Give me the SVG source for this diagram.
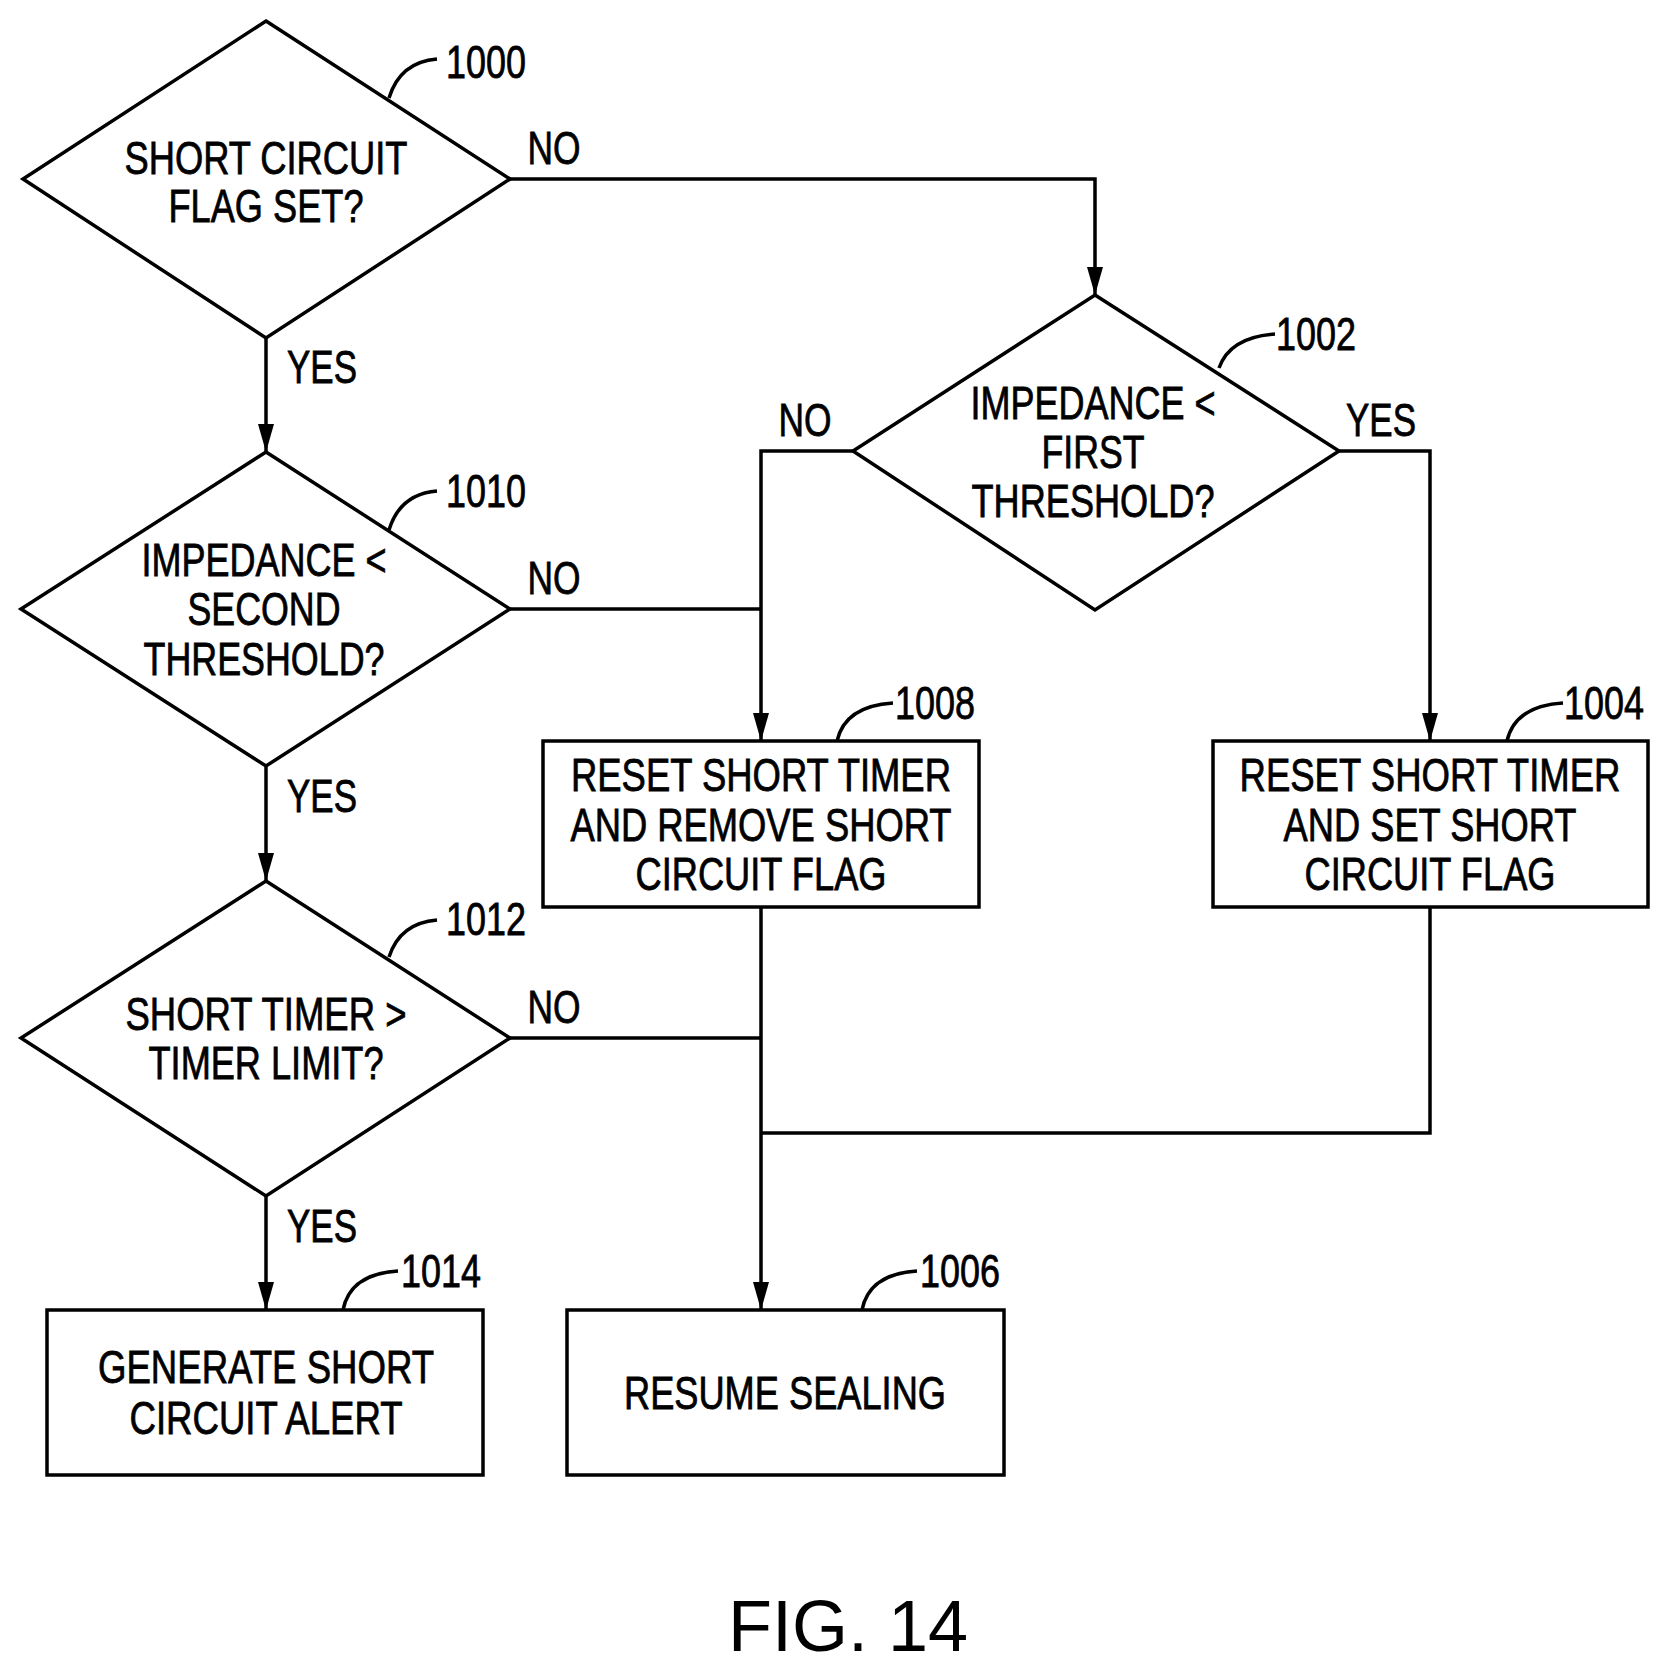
<svg xmlns="http://www.w3.org/2000/svg" width="1664" height="1666" viewBox="0 0 1664 1666">
<style>
.s{fill:#fff;stroke:#000;stroke-width:3.5}
.c{fill:none;stroke:#000;stroke-width:3.5}
.t{font-family:"Liberation Sans",Arial,sans-serif;font-size:47px;text-anchor:middle;fill:#000;stroke:#000;stroke-width:0.8}
</style>
<defs>
<marker id="d" markerWidth="28" markerHeight="16" refX="28" refY="8" orient="auto" markerUnits="userSpaceOnUse" viewBox="0 0 28 16"><path d="M0,0 L28,8 L0,16 Z" fill="#000"/></marker></defs>
<rect width="1664" height="1666" fill="#fff"/>
<g id="connectors">
<path class="c" d="M510,179 H1095 V295" marker-end="url(#d)"/>
<path class="c" d="M266,338 V452" marker-end="url(#d)"/>
<path class="c" d="M853,451 H761 V741" marker-end="url(#d)"/>
<path class="c" d="M1339,451 H1430 V741" marker-end="url(#d)"/>
<path class="c" d="M510,609 H761"/>
<path class="c" d="M266,766 V881" marker-end="url(#d)"/>
<path class="c" d="M510,1038 H761"/>
<path class="c" d="M761,907 V1310" marker-end="url(#d)"/>
<path class="c" d="M1430,907 V1133 H761"/>
<path class="c" d="M266,1196 V1310" marker-end="url(#d)"/>
<text class="t" x="554" y="164" textLength="53" lengthAdjust="spacingAndGlyphs">NO</text>
<text class="t" x="322" y="383" textLength="70" lengthAdjust="spacingAndGlyphs">YES</text>
<text class="t" x="805" y="436" textLength="53" lengthAdjust="spacingAndGlyphs">NO</text>
<text class="t" x="1381" y="436" textLength="70" lengthAdjust="spacingAndGlyphs">YES</text>
<text class="t" x="554" y="594" textLength="53" lengthAdjust="spacingAndGlyphs">NO</text>
<text class="t" x="322" y="812" textLength="70" lengthAdjust="spacingAndGlyphs">YES</text>
<text class="t" x="554" y="1023" textLength="53" lengthAdjust="spacingAndGlyphs">NO</text>
<text class="t" x="322" y="1242" textLength="70" lengthAdjust="spacingAndGlyphs">YES</text>
</g>
<g id="n1000">
<polygon class="s" points="266,21 510,179 266,338 23,179"/>
<text class="t" x="266" y="174" textLength="283" lengthAdjust="spacingAndGlyphs">SHORT CIRCUIT</text>
<text class="t" x="266" y="222" textLength="195" lengthAdjust="spacingAndGlyphs">FLAG SET?</text>
<path class="c" d="M389,98 Q400,62 437,59"/>
<text class="t" x="486" y="78" textLength="80" lengthAdjust="spacingAndGlyphs">1000</text>
</g>
<g id="n1002">
<polygon class="s" points="1095,295 1339,451 1095,610 853,451"/>
<text class="t" x="1093" y="419" textLength="245" lengthAdjust="spacingAndGlyphs">IMPEDANCE &lt;</text>
<text class="t" x="1093" y="468" textLength="103" lengthAdjust="spacingAndGlyphs">FIRST</text>
<text class="t" x="1093" y="517" textLength="243" lengthAdjust="spacingAndGlyphs">THRESHOLD?</text>
<path class="c" d="M1219,368 Q1230,337 1275,334"/>
<text class="t" x="1316" y="350" textLength="80" lengthAdjust="spacingAndGlyphs">1002</text>
</g>
<g id="n1010">
<polygon class="s" points="266,452 510,609 266,766 21,609"/>
<text class="t" x="264" y="576" textLength="245" lengthAdjust="spacingAndGlyphs">IMPEDANCE &lt;</text>
<text class="t" x="264" y="625" textLength="153" lengthAdjust="spacingAndGlyphs">SECOND</text>
<text class="t" x="264" y="675" textLength="241" lengthAdjust="spacingAndGlyphs">THRESHOLD?</text>
<path class="c" d="M389,530 Q400,494 437,491"/>
<text class="t" x="486" y="507" textLength="80" lengthAdjust="spacingAndGlyphs">1010</text>
</g>
<g id="n1012">
<polygon class="s" points="266,881 510,1038 266,1196 21,1038"/>
<text class="t" x="266" y="1030" textLength="281" lengthAdjust="spacingAndGlyphs">SHORT TIMER &gt;</text>
<text class="t" x="266" y="1079" textLength="235" lengthAdjust="spacingAndGlyphs">TIMER LIMIT?</text>
<path class="c" d="M389,957 Q400,923 437,920"/>
<text class="t" x="486" y="935" textLength="80" lengthAdjust="spacingAndGlyphs">1012</text>
</g>
<g id="n1008">
<rect class="s" x="543" y="741" width="436" height="166"/>
<text class="t" x="761" y="791" textLength="380" lengthAdjust="spacingAndGlyphs">RESET SHORT TIMER</text>
<text class="t" x="761" y="841" textLength="381" lengthAdjust="spacingAndGlyphs">AND REMOVE SHORT</text>
<text class="t" x="761" y="890" textLength="251" lengthAdjust="spacingAndGlyphs">CIRCUIT FLAG</text>
<path class="c" d="M837,741 Q845,706 893,703"/>
<text class="t" x="935" y="719" textLength="80" lengthAdjust="spacingAndGlyphs">1008</text>
</g>
<g id="n1004">
<rect class="s" x="1213" y="741" width="435" height="166"/>
<text class="t" x="1430" y="791" textLength="381" lengthAdjust="spacingAndGlyphs">RESET SHORT TIMER</text>
<text class="t" x="1430" y="841" textLength="293" lengthAdjust="spacingAndGlyphs">AND SET SHORT</text>
<text class="t" x="1430" y="890" textLength="251" lengthAdjust="spacingAndGlyphs">CIRCUIT FLAG</text>
<path class="c" d="M1507,741 Q1515,706 1563,703"/>
<text class="t" x="1604" y="719" textLength="80" lengthAdjust="spacingAndGlyphs">1004</text>
</g>
<g id="n1014">
<rect class="s" x="47" y="1310" width="436" height="165"/>
<text class="t" x="266" y="1383" textLength="336" lengthAdjust="spacingAndGlyphs">GENERATE SHORT</text>
<text class="t" x="266" y="1434" textLength="273" lengthAdjust="spacingAndGlyphs">CIRCUIT ALERT</text>
<path class="c" d="M343,1310 Q350,1274 398,1271"/>
<text class="t" x="441" y="1287" textLength="80" lengthAdjust="spacingAndGlyphs">1014</text>
</g>
<g id="n1006">
<rect class="s" x="567" y="1310" width="437" height="165"/>
<text class="t" x="785" y="1409" textLength="322" lengthAdjust="spacingAndGlyphs">RESUME SEALING</text>
<path class="c" d="M862,1310 Q869,1274 917,1271"/>
<text class="t" x="960" y="1287" textLength="80" lengthAdjust="spacingAndGlyphs">1006</text>
</g>
<text x="848" y="1651" font-family="Liberation Sans,Arial,sans-serif" font-size="72" text-anchor="middle">FIG. 14</text>
</svg>
